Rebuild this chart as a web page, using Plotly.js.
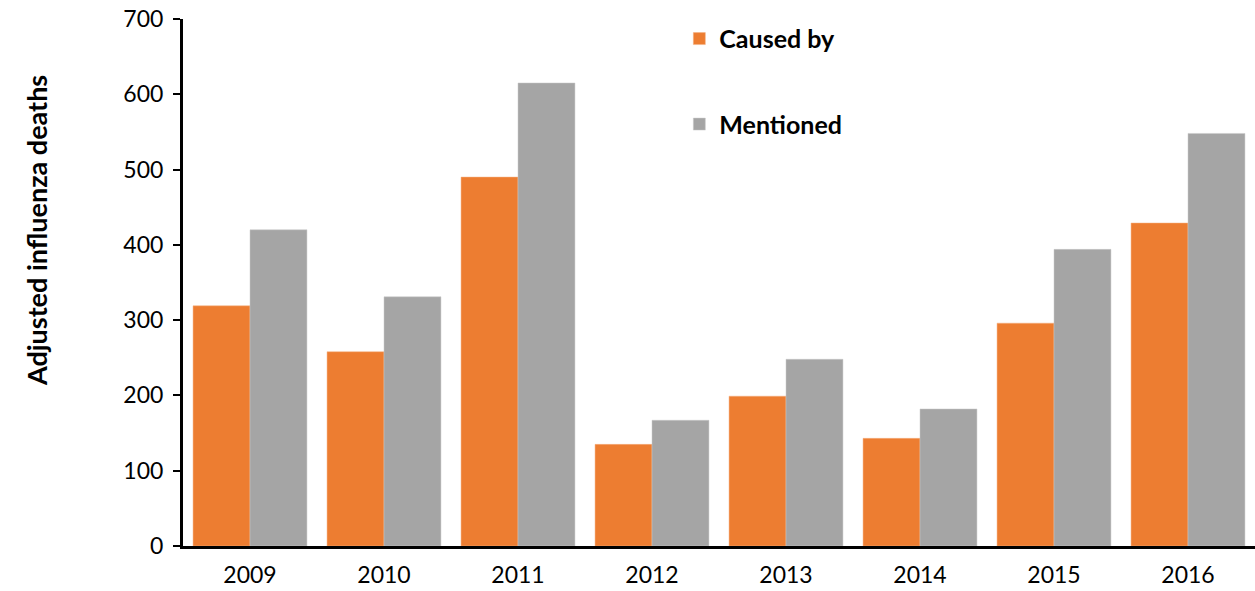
<!DOCTYPE html>
<html><head><meta charset="utf-8">
<script src="https://cdn.plot.ly/plotly-3.0.1.min.js"></script>
<style>html,body{margin:0;padding:0;background:#fff}#chart{width:1255px;height:591px}</style>
</head><body><div id="chart"></div>
<script>
const years = ['2009','2010','2011','2012','2013','2014','2015','2016'];
const causedBy = [319, 258, 490, 135, 199, 143, 296, 429];
const mentioned = [420, 331, 615, 167, 248, 182, 394, 548];
const yTicks = [0,100,200,300,400,500,600,700];
const yTitle = '<b>Adjusted influenza deaths</b>';

const fontFam = 'Lato, "Open Sans", sans-serif';
const traces = [
  {type:'bar', name:'<b>Caused by</b>', x:years, y:causedBy, marker:{color:'#ED7D31', line:{color:'#F4B183', width:0.5}}, legendgroup:'a'},
  {type:'bar', name:'<b>Mentioned</b>', x:years, y:mentioned, marker:{color:'#A5A5A5', line:{color:'#C9C9C9', width:0.5}}, legendgroup:'b'}
];
const layout = {
  width:1255, height:591,
  margin:{l:183, r:0, t:19, b:45},
  paper_bgcolor:'#fff', plot_bgcolor:'#fff',
  barmode:'group', bargap:0.15, bargroupgap:0,
  font:{family:fontFam, size:23, color:'#000'},
  xaxis:{showline:true, linecolor:'#000', linewidth:3, ticks:'', showgrid:false, tickfont:{size:23}, ticklabelstandoff:6},
  yaxis:{range:[0,700], tickvals:yTicks, showline:true, linecolor:'#000', linewidth:3, ticks:'outside', ticklen:7, tickwidth:2, tickcolor:'#000', showgrid:false, zeroline:false, tickfont:{size:23}, ticklabelstandoff:5},
  annotations:[{text:yTitle, xref:'paper', yref:'paper', x:-0.136, y:0.598, xanchor:'center', yanchor:'middle', textangle:-90, showarrow:false, font:{size:27}}],
  showlegend:true,
  legend:{x:0.463, y:1.006, xanchor:'left', yanchor:'top', font:{size:25}, tracegroupgap:50, bgcolor:'rgba(0,0,0,0)', itemwidth:30}
};
Plotly.newPlot('chart', traces, layout, {displayModeBar:false});
</script></body></html>
